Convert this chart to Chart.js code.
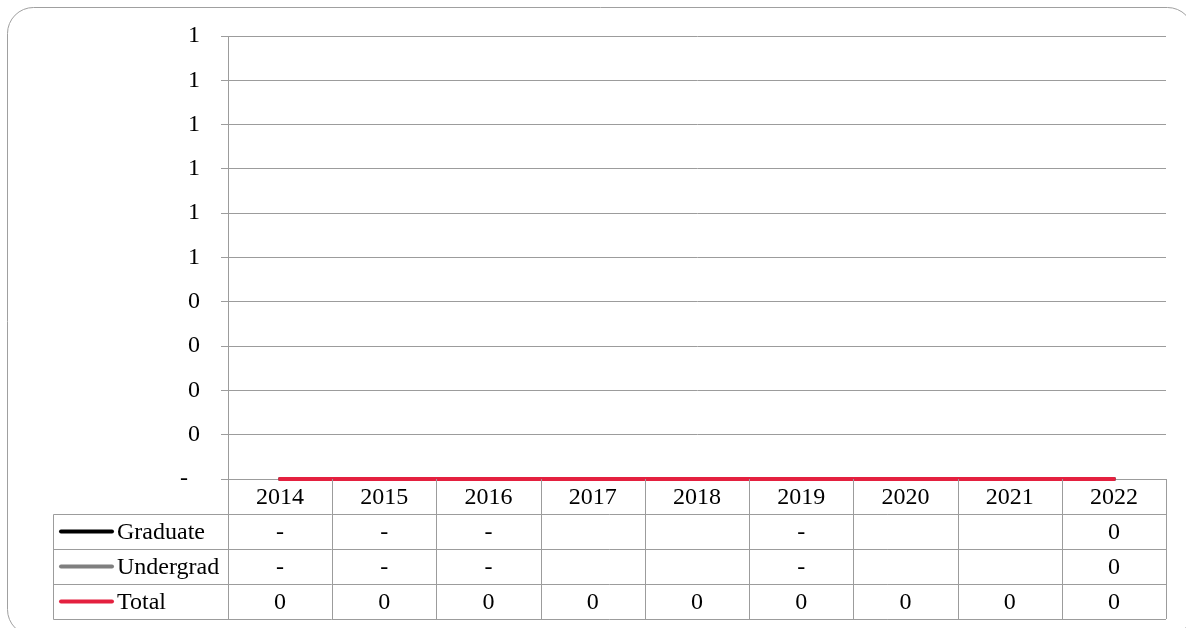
<!DOCTYPE html>
<html>
<head>
<meta charset="utf-8">
<script src="https://cdn.jsdelivr.net/npm/chart.js@4.4.1/dist/chart.umd.min.js"></script>
<style>
  html, body { margin: 0; padding: 0; background: #fff; }
  canvas { display: block; }
</style>
</head>
<body>
<canvas id="enrollChart" width="1186" height="628"></canvas>
<script>
  const years = ['2014', '2015', '2016', '2017', '2018', '2019', '2020', '2021', '2022'];
  const graduate = [0, 0, 0, null, null, 0, null, null, 0];
  const undergrad = [0, 0, 0, null, null, 0, null, null, 0];
  const total = [0, 0, 0, 0, 0, 0, 0, 0, 0];

  // text shown in the data table cells (accounting format shows zero as '-')
  const graduateCells = ['-', '-', '-', '', '', '-', '', '', '0'];
  const undergradCells = ['-', '-', '-', '', '', '-', '', '', '0'];
  const totalCells = total.map(v => String(v));

  const yMin = 0;
  const yMax = 1;
  const yStep = 0.1;

  const gridColor = '#9c9c9c';
  const fontFamily = "'Liberation Serif', 'Times New Roman', serif";
  const fontSize = 24;

  const frame = {
    id: 'frame',
    beforeDraw(chart) {
      const ctx = chart.ctx;
      ctx.save();
      ctx.fillStyle = '#fff';
      ctx.fillRect(0, 0, chart.width, chart.height);
      ctx.strokeStyle = '#a0a0a0';
      ctx.lineWidth = 1;
      ctx.beginPath();
      ctx.roundRect(7.5, 7.5, 1186, 628, 26);
      ctx.stroke();
      ctx.restore();
    }
  };

  const dataTable = {
    id: 'dataTable',
    afterDraw(chart) {
      const { ctx, chartArea } = chart;
      const x = chart.scales.x;
      const rowH = 35;
      const top = chartArea.bottom;
      const left = 53.5;
      const colW = chartArea.width / years.length;
      const rows = [
        { name: 'Graduate', color: '#000000', cells: graduateCells },
        { name: 'Undergrad', color: '#7f7f7f', cells: undergradCells },
        { name: 'Total', color: '#e4203f', cells: totalCells }
      ];
      const bottom = top + rowH * (rows.length + 1);

      ctx.save();
      ctx.strokeStyle = gridColor;
      ctx.lineWidth = 1;
      ctx.beginPath();
      // column separators
      for (let i = 0; i <= years.length; i++) {
        const cx = Math.round(chartArea.left + colW * i) + 0.5;
        ctx.moveTo(cx, top);
        ctx.lineTo(cx, bottom);
      }
      // row separators
      for (let r = 1; r <= rows.length + 1; r++) {
        const ry = Math.round(top + rowH * r) + 0.5;
        ctx.moveTo(left, ry);
        ctx.lineTo(chartArea.right, ry);
      }
      ctx.moveTo(left, Math.round(top + rowH) + 0.5);
      ctx.lineTo(left, bottom + 0.5);
      ctx.stroke();

      ctx.fillStyle = '#000';
      ctx.font = fontSize + 'px ' + fontFamily;
      ctx.textBaseline = 'middle';
      ctx.textAlign = 'center';
      years.forEach((yr, i) => {
        ctx.fillText(yr, x.getPixelForValue(i), top + rowH / 2 + 1);
      });

      rows.forEach((row, r) => {
        const cy = top + rowH * (r + 1) + rowH / 2 + 1;
        ctx.strokeStyle = row.color;
        ctx.lineWidth = 4;
        ctx.lineCap = 'round';
        ctx.beginPath();
        ctx.moveTo(61, cy - 1);
        ctx.lineTo(112, cy - 1);
        ctx.stroke();

        ctx.textAlign = 'left';
        ctx.fillText(row.name, 117, cy);
        ctx.textAlign = 'center';
        row.cells.forEach((txt, i) => {
          if (txt) ctx.fillText(txt, x.getPixelForValue(i), cy);
        });
      });
      ctx.restore();
    }
  };

  const ctx = document.getElementById('enrollChart').getContext('2d');
  const enrollChart = new Chart(ctx, {
    type: 'line',
    data: {
      labels: years,
      datasets: [
        { label: 'Graduate', data: graduate, borderColor: '#000000', borderWidth: 4, order: 3, clip: false },
        { label: 'Undergrad', data: undergrad, borderColor: '#7f7f7f', borderWidth: 4, order: 2, clip: false },
        { label: 'Total', data: total, borderColor: '#e4203f', borderWidth: 4, order: 1, clip: false }
      ]
    },
    options: {
      responsive: false,
      animation: false,
      layout: { padding: { left: 0, top: 36, right: 20, bottom: 149 } },
      elements: {
        point: { radius: 0 },
        line: { tension: 0, borderCapStyle: 'round', fill: false }
      },
      plugins: {
        legend: { display: false },
        tooltip: { enabled: false }
      },
      scales: {
        x: { display: false, offset: true },
        y: {
          min: yMin,
          max: yMax,
          afterFit: scale => { scale.width = 228; },
          ticks: {
            stepSize: yStep,
            padding: 21,
            color: '#000',
            font: { family: fontFamily, size: fontSize },
            // zero is written as a dash, padded like an accounting number
            callback: v => (v === 0 ? '-  ' : String(Math.round(v)))
          },
          grid: { color: gridColor, lineWidth: 1, tickLength: 7 },
          border: { color: gridColor }
        }
      }
    },
    plugins: [frame, dataTable]
  });
</script>
</body>
</html>
